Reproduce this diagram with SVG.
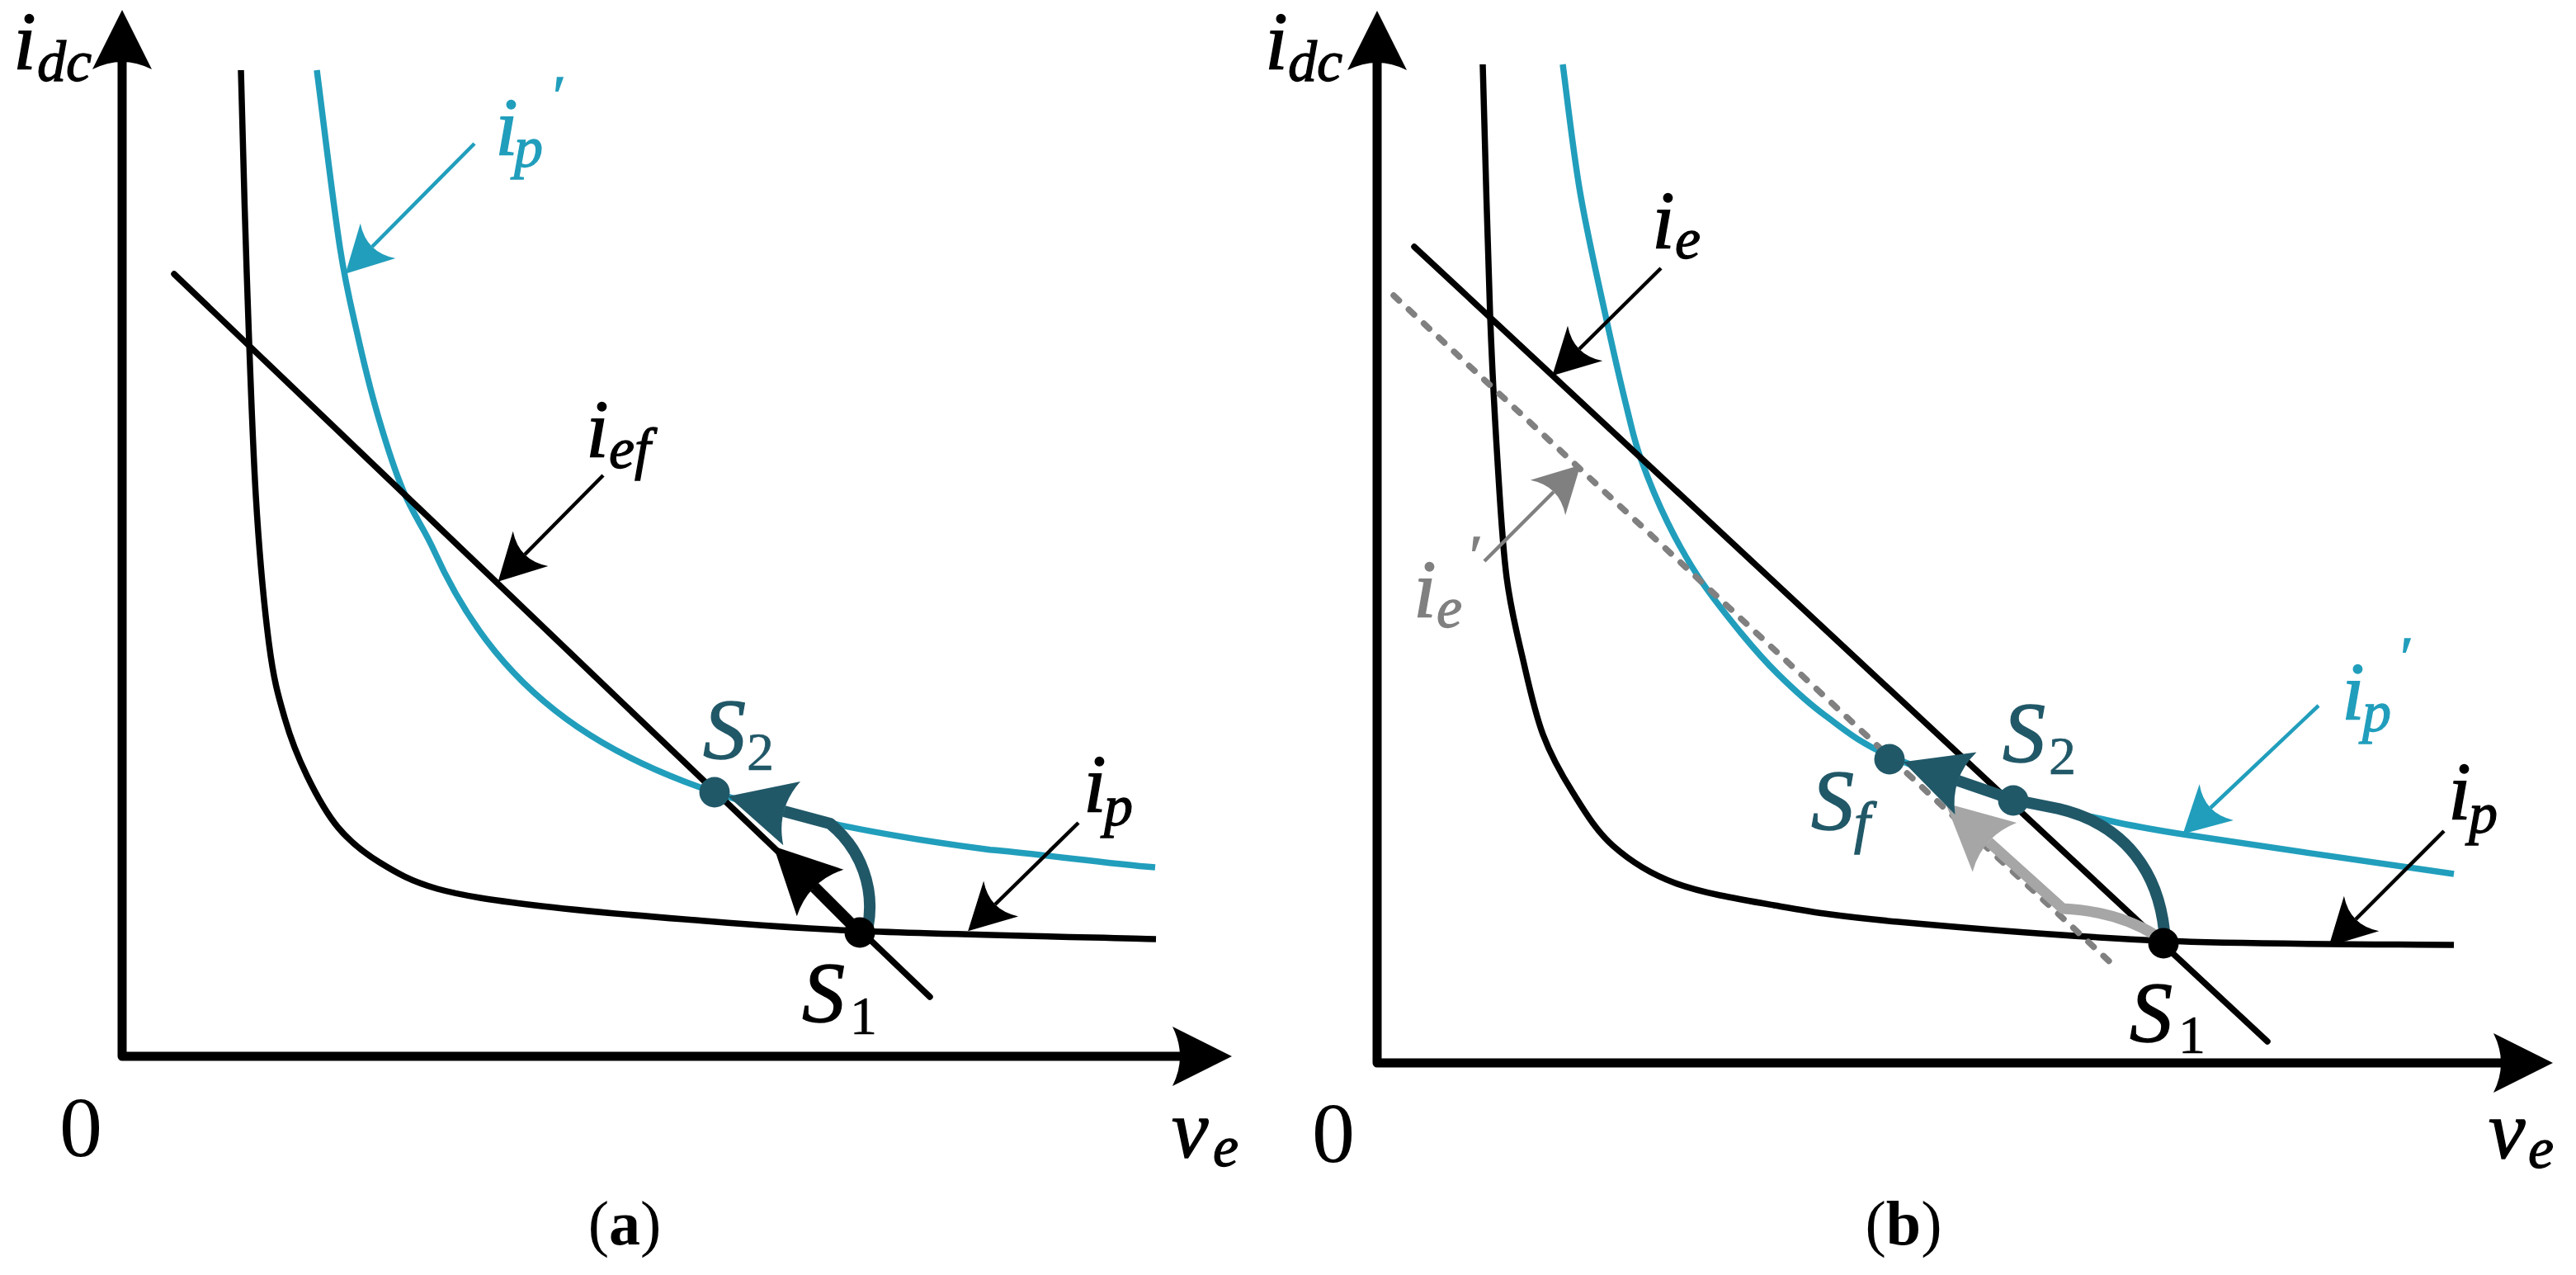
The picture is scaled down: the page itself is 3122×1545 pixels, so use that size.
<svg xmlns="http://www.w3.org/2000/svg" width="3122" height="1545" viewBox="0 0 3122 1545">
<style>
.ax{stroke:#000;stroke-width:11;fill:none;stroke-linejoin:round}
.blk{stroke:#000;stroke-width:7.5;fill:none}
.cyn{stroke:#219EBC;stroke-width:7.5;fill:none}
.ln{stroke:#000;stroke-width:7.5;fill:none;stroke-linecap:round}
.dot{stroke:#808080;stroke-width:7.5;fill:none;stroke-linecap:round;stroke-dasharray:9 16}
.lk{stroke:#000;stroke-width:4.5;fill:none}
.lc{stroke:#219EBC;stroke-width:4.5;fill:none}
.lg{stroke:#808080;stroke-width:4.5;fill:none}
.tk{stroke:#000;stroke-width:14;fill:none}
.tt{stroke:#215868;stroke-width:14;fill:none;stroke-linejoin:round}
.tg{stroke:#A6A6A6;stroke-width:13;fill:none;stroke-linejoin:round}
text{font-family:"Liberation Serif","Times New Roman",serif;fill:#000}
.m,.s,.S,.n,.pr{stroke:#000;stroke-width:1.3}
.m{font-size:100px;font-style:italic}
.s{font-size:70px;font-style:italic}
.S{font-size:104px;font-style:italic}
.n{font-size:66px;stroke-width:0.6}
.z{font-size:104px}
.cap{font-size:76px}
.pr{font-size:70px;font-style:italic}
text.kc{fill:#219EBC;stroke:#219EBC}
text.kt{fill:#215868;stroke:#215868}
text.kg{fill:#808080;stroke:#808080}
</style>
<defs>
<marker id="mAx" markerUnits="userSpaceOnUse" orient="auto-start-reverse" refX="0" refY="0" markerWidth="10" markerHeight="10" overflow="visible"><path d="M63,0 L-9,-36 Q9,0 -9,36 Z" fill="#000"/></marker>
<marker id="mThK" markerUnits="userSpaceOnUse" orient="auto" refX="0" refY="0" markerWidth="10" markerHeight="10" overflow="visible"><path d="M70,0 L-10,-40 Q10,0 -10,40 Z" fill="#000"/></marker>
<marker id="mThT" markerUnits="userSpaceOnUse" orient="auto" refX="0" refY="0" markerWidth="10" markerHeight="10" overflow="visible"><path d="M70,0 L-10,-40 Q10,0 -10,40 Z" fill="#215868"/></marker>
<marker id="mThG" markerUnits="userSpaceOnUse" orient="auto" refX="0" refY="0" markerWidth="10" markerHeight="10" overflow="visible"><path d="M70,0 L-10,-40 Q10,0 -10,40 Z" fill="#A6A6A6"/></marker>
<marker id="mLbK" markerUnits="userSpaceOnUse" orient="auto" refX="0" refY="0" markerWidth="10" markerHeight="10" overflow="visible"><path d="M46,0 L-10,-30 Q10,0 -10,30 Z" fill="#000"/></marker>
<marker id="mLbC" markerUnits="userSpaceOnUse" orient="auto" refX="0" refY="0" markerWidth="10" markerHeight="10" overflow="visible"><path d="M46,0 L-10,-30 Q10,0 -10,30 Z" fill="#219EBC"/></marker>
<marker id="mLbG" markerUnits="userSpaceOnUse" orient="auto" refX="0" refY="0" markerWidth="10" markerHeight="10" overflow="visible"><path d="M46,0 L-10,-30 Q10,0 -10,30 Z" fill="#808080"/></marker>
</defs>
<rect width="3122" height="1545" fill="#fff"/>

<!-- Panel (a) -->
<g id="panel-a">
<g id="axes-a">
<path class="ax" d="M148,75 L148,1280 L1430,1280" marker-start="url(#mAx)" marker-end="url(#mAx)"/>
<text class="m" x="16" y="83">i</text><text class="s" x="45" y="98">dc</text>
<text class="z" x="72" y="1401">0</text>
<text class="m" x="1420" y="1402">v</text><text class="s" x="1470" y="1413">e</text>
</g>
<g id="curve-ip-a">
<path class="blk" d="M292,85 C293.2,125.8 296,244.2 299,330 C302,415.8 305.5,525 310,600 C314.5,675 320.2,735 326,780 C331.8,825 337.3,843.3 345,870 C352.7,896.7 361.2,917.8 372,940 C382.8,962.2 395.3,985.5 410,1003 C424.7,1020.5 440,1032.7 460,1045 C480,1057.3 498.7,1068.3 530,1077 C561.3,1085.7 598,1090.8 648,1097 C698,1103.2 764.7,1108.8 830,1114 C895.3,1119.2 944.8,1124 1040,1128 C1135.2,1132 1340.8,1136.3 1401,1138"/>
</g>
<g id="curve-ipp-a">
<path class="cyn" d="M384,85 C393.3,156.9 402.7,238.8 412,300 C418.7,343.7 425.3,370.4 432,400 C440.3,437 448.7,471.3 457,500 C467.3,535.6 477.7,568 488,593 C500.7,623.7 513.3,639.2 526,667.3 C550.7,722 575.3,759.1 600,789.4 C633.3,830.4 666.7,858.2 700,880.9 C743.3,910.4 786.7,930.6 830,947.2 C886.7,968.9 943.3,983.8 1000,996.1 C1066.7,1010.6 1133.3,1021.1 1200,1029.8 C1266.7,1035.6 1333.3,1045.3 1400,1051.1"/>
</g>
<g id="line-ief-a">
<path class="ln" d="M211,332 L1127,1208"/>
</g>
<g id="connectors-a">
<path class="tk" d="M1042,1130 L987,1075" marker-end="url(#mThK)"/>
<path class="tt" d="M1052,1122 C1060,1078 1045,1030 1006,998 L950,983" marker-end="url(#mThT)"/>
<path class="lc" d="M575,174 L451,299" marker-end="url(#mLbC)"/>
<path class="lk" d="M731,576 L636,672" marker-end="url(#mLbK)"/>
<path class="lk" d="M1307,997 L1206,1096" marker-end="url(#mLbK)"/>
</g>
<g id="node-S2-a">
<circle cx="866" cy="960" r="18.5" fill="#215868"/>
<text class="S kt" x="852" y="919">S</text><text class="n kt" x="905" y="933">2</text>
</g>
<g id="node-S1-a">
<circle cx="1042" cy="1130" r="18.5" fill="#000"/>
<text class="S" x="972" y="1238">S</text><text class="n" x="1030" y="1253">1</text>
</g>
<g id="labels-a">
<text class="m kc" x="600" y="187">i</text><text class="s kc" x="623" y="202">p</text><text class="pr kc" x="666" y="140">′</text>
<text class="m" x="710" y="553">i</text><text class="s" x="738" y="567">ef</text>
<text class="m" x="1313" y="983">i</text><text class="s" x="1338" y="1000">p</text>
<text class="cap" x="757" y="1508" text-anchor="middle">(<tspan font-weight="bold">a</tspan>)</text>
</g>
</g>

<!-- Panel (b) -->
<g id="panel-b">
<g id="axes-b">
<path class="ax" d="M1669,76 L1669,1288 L3031,1288" marker-start="url(#mAx)" marker-end="url(#mAx)"/>
<text class="m" x="1533" y="83">i</text><text class="s" x="1561" y="98">dc</text>
<text class="z" x="1590" y="1408">0</text>
<text class="m" x="3016" y="1403">v</text><text class="s" x="3064" y="1415">e</text>
</g>
<g id="curve-ip-b">
<path class="blk" d="M1797,78 C1798.5,128.8 1803,302.7 1806,383 C1809,463.3 1811.7,507.2 1815,560 C1818.3,612.8 1820.8,660 1826,700 C1831.2,740 1838.7,768.3 1846,800 C1853.3,831.7 1860,863.3 1870,890 C1880,916.7 1891.8,937.5 1906,960 C1920.2,982.5 1934.3,1006.7 1955,1025 C1975.7,1043.3 1997.5,1058 2030,1070 C2062.5,1082 2105,1089.2 2150,1097 C2195,1104.8 2221.2,1109.8 2300,1117 C2378.8,1124.2 2510.7,1135.3 2623,1140 C2735.3,1144.7 2915.5,1144.2 2974,1145"/>
</g>
<g id="curve-ipp-b">
<path class="cyn" d="M1894,78 C1897.5,103.8 1906.3,182.2 1915,233 C1923.7,283.8 1936.3,338.5 1946,383 C1955.7,427.5 1965.8,471 1973,500 C1980.2,529 1981,534.8 1989,557 C1997,579.2 2009.3,609.2 2021,633 C2032.7,656.8 2044.2,677.7 2059,700 C2073.8,722.3 2094,747.5 2110,767 C2126,786.5 2138,800.3 2155,817 C2172,833.7 2189.5,850.5 2212,867 C2234.5,883.5 2252,899.2 2290,916 C2328,932.8 2399,955.7 2440,968 C2481,980.3 2501.7,982.8 2536,990 C2570.3,997.2 2573,999.5 2646,1011 C2719,1022.5 2919.3,1051 2974,1059"/>
</g>
<g id="line-ie-b">
<path class="ln" d="M1714,299 L2748,1262"/>
</g>
<g id="line-iep-b">
<path class="dot" d="M1689,358 L2565,1173"/>
</g>
<g id="connectors-b">
<path class="tg" d="M2612,1133 Q2565,1104 2500,1101 L2410,1020" marker-end="url(#mThG)"/>
<path class="tt" d="M2623,1128 C2616,1062 2580,1000 2495,980 L2440,969 L2373,946" marker-end="url(#mThT)"/>
<path class="lk" d="M2013,325 L1914,423" marker-end="url(#mLbK)"/>
<path class="lg" d="M1799,680 L1883,596" marker-end="url(#mLbG)"/>
<path class="lc" d="M2810,855 L2679,979" marker-end="url(#mLbC)"/>
<path class="lk" d="M2962,1007 L2855,1114" marker-end="url(#mLbK)"/>
</g>
<g id="node-Sf-b">
<circle cx="2290" cy="920" r="18.5" fill="#215868"/>
<text class="S kt" x="2195" y="1005">S</text><text class="s kt" x="2247" y="1020">f</text>
</g>
<g id="node-S2-b">
<circle cx="2440" cy="970" r="18.5" fill="#215868"/>
<text class="S kt" x="2427" y="923">S</text><text class="n kt" x="2483" y="938">2</text>
</g>
<g id="node-S1-b">
<circle cx="2622" cy="1143" r="18.5" fill="#000"/>
<text class="S" x="2581" y="1262">S</text><text class="n" x="2640" y="1276">1</text>
</g>
<g id="labels-b">
<text class="m" x="2002" y="300">i</text><text class="s" x="2030" y="313">e</text>
<text class="m kg" x="1713" y="747">i</text><text class="s kg" x="1741" y="760">e</text><text class="pr kg" x="1777" y="697">′</text>
<text class="m kc" x="2838" y="871">i</text><text class="s kc" x="2863" y="886">p</text><text class="pr kc" x="2905" y="820">′</text>
<text class="m" x="2967" y="992">i</text><text class="s" x="2992" y="1009">p</text>
<text class="cap" x="2307" y="1508" text-anchor="middle">(<tspan font-weight="bold">b</tspan>)</text>
</g>
</g>
</svg>
